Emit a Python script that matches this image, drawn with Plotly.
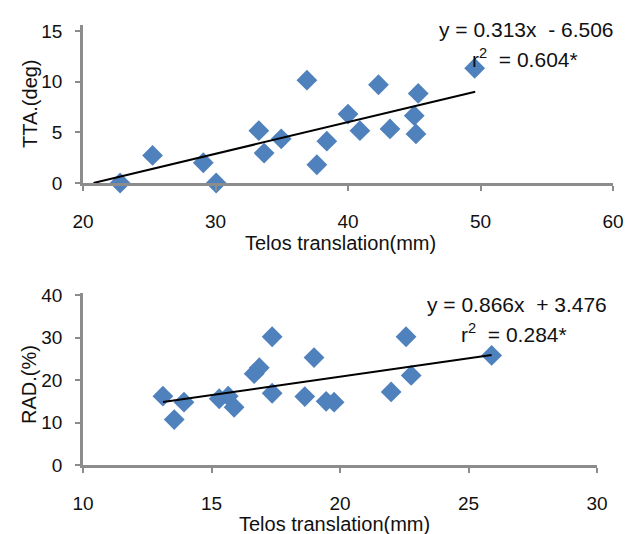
import plotly.graph_objects as go

# Top panel: Telos translation (mm) vs TTA (deg)
tta_x = [22.8, 25.25, 29.08, 30.05, 33.27, 33.67, 34.96, 36.9, 37.65, 38.4, 40.0, 40.9, 42.3, 43.17, 45.0, 45.13, 45.3, 49.56]
tta_y = [0.0, 2.72, 2.0, 0.0, 5.17, 2.95, 4.36, 10.15, 1.8, 4.13, 6.81, 5.17, 9.7, 5.34, 6.65, 4.85, 8.84, 11.33]
tta_slope, tta_intercept = 0.313, -6.506
tta_line_x = [20.79, 49.6]

# Bottom panel: Telos translation (mm) vs RAD (%)
rad_x = [13.11, 13.55, 13.93, 15.3, 15.65, 15.88, 16.66, 16.86, 17.36, 17.36, 18.63, 18.99, 19.46, 19.77, 21.99, 22.57, 22.77, 25.9]
rad_y = [16.2, 10.7, 14.8, 15.6, 16.2, 13.6, 21.5, 22.9, 30.2, 16.9, 16.1, 25.3, 15.0, 14.8, 17.2, 30.2, 21.1, 25.8]
rad_slope, rad_intercept = 0.866, 3.476
rad_line_x = [13.11, 25.9]

FONT = "Liberation Sans, Arial, sans-serif"
BLUE = "#4F81BD"
AXC = "#8C8C8C"
W, H = 625, 534

def py(p):
    return 1 - p / H

def px(p):
    return p / W

fig = go.Figure()

fig.add_trace(go.Scatter(x=tta_x, y=tta_y, mode="markers", xaxis="x", yaxis="y",
                         marker=dict(symbol="diamond", size=16, color=BLUE), cliponaxis=False))
fig.add_trace(go.Scatter(x=tta_line_x, y=[tta_slope * v + tta_intercept for v in tta_line_x],
                         mode="lines", xaxis="x", yaxis="y", line=dict(color="black", width=2)))
fig.add_trace(go.Scatter(x=rad_x, y=rad_y, mode="markers", xaxis="x2", yaxis="y2",
                         marker=dict(symbol="diamond", size=16, color=BLUE), cliponaxis=False))
fig.add_trace(go.Scatter(x=rad_line_x, y=[rad_slope * v + rad_intercept for v in rad_line_x],
                         mode="lines", xaxis="x2", yaxis="y2", line=dict(color="black", width=2)))

common_x = dict(showgrid=False, zeroline=False, showline=True, linecolor=AXC, linewidth=2.5,
                ticks="outside", ticklen=5, tickcolor=AXC, tickwidth=2, automargin=False,
                tickfont=dict(family=FONT, size=19, color="#111"), ticklabelstandoff=14)
common_y = dict(showgrid=False, zeroline=False, showline=True, linecolor=AXC, linewidth=2.5,
                ticks="outside", ticklen=5, tickcolor=AXC, tickwidth=2, automargin=False,
                tickfont=dict(family=FONT, size=19, color="#111"), ticklabelstandoff=9)

fig.update_layout(
    width=W, height=H, margin=dict(l=0, r=0, t=0, b=0, autoexpand=False),
    paper_bgcolor="white", plot_bgcolor="white", showlegend=False,
    xaxis=dict(common_x, range=[20, 60], dtick=10, domain=[px(83), px(613)], anchor="y"),
    yaxis=dict(common_y, range=[0, 15.6], tickvals=[0, 5, 10, 15], domain=[py(183), py(25)], anchor="x"),
    xaxis2=dict(common_x, range=[10, 30], dtick=5, domain=[px(83), px(597)], anchor="y2"),
    yaxis2=dict(common_y, range=[0, 40.5], tickvals=[0, 10, 20, 30, 40], domain=[py(465), py(293)], anchor="x2"),
)

ann = []
tfont = dict(family=FONT, size=20, color="#111")
efont = dict(family=FONT, size=21, color="#111")
def add(text, x, y, **kw):
    d = dict(text=text, x=px(x), y=py(y), xref="paper", yref="paper", showarrow=False,
             xanchor="center", yanchor="middle")
    d.update(kw)
    ann.append(d)

add("Telos translation(mm)", 340, 243, font=tfont)
add("Telos translation(mm)", 334, 524, font=tfont)
add("TTA.(deg)", 30, 104, textangle=-90, font=tfont)
add("RAD.(%)", 29, 384, textangle=-90, font=tfont)
add("y = 0.313x  - 6.506", 526, 29, font=efont)
add("r<sup>2</sup>  = 0.604*", 470, 58, xanchor="left", font=efont)
add("y = 0.866x  + 3.476", 517, 304, font=efont)
add("r<sup>2</sup>  = 0.284*", 459, 333, xanchor="left", font=efont)
fig.update_layout(annotations=ann)

fig.write_html("out.html", config={"displayModeBar": False},
               post_script="document.body.style.margin='0';document.body.style.overflow='hidden';")
